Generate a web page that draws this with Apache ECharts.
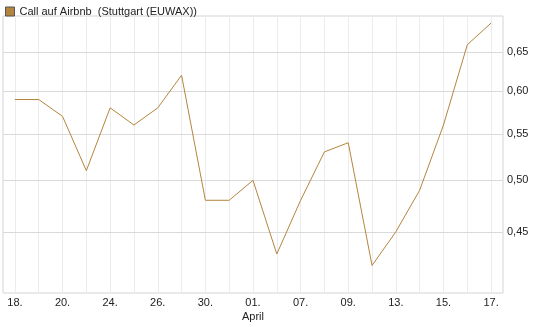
<!DOCTYPE html>
<html>
<head>
<meta charset="utf-8">
<script src="https://cdn.jsdelivr.net/npm/echarts@6/dist/echarts.min.js"></script>
<style>html,body{margin:0;padding:0;background:#fff}#c{width:545px;height:327px}</style>
</head>
<body>
<div id="c"></div>
<script>
var seriesName = 'Call auf Airbnb  (Stuttgart (EUWAX))';
var categories = ['18.','19.','20.','21.','24.','25.','26.','28.','30.','31.','01.','04.','07.','08.','09.','11.','13.','14.','15.','16.','17.'];
var values = [0.59,0.59,0.57,0.51,0.58,0.56,0.58,0.62,0.48,0.48,0.50,0.43,0.48,0.53,0.54,0.42,0.45,0.49,0.56,0.66,0.69];
var yTicks = [0.45,0.50,0.55,0.60,0.65];
var monthLabel = 'April';

var chart = echarts.init(document.getElementById('c'));
chart.setOption({
  animation: false,
  textStyle: {fontFamily: 'Liberation Sans, Arial, sans-serif'},
  legend: {
    left: 0, top: 1, itemWidth: 9, itemHeight: 9, itemGap: 5,
    icon: 'rect',
    textStyle: {fontSize: 11, color: '#222', fontFamily: 'Liberation Sans, Arial, sans-serif'},
    itemStyle: {borderColor: '#555', borderWidth: 1}
  },
  grid: {left: 3, right: 42, top: 16, bottom: 34, show: true, borderColor: '#d4d4d4', borderWidth: 1},
  xAxis: {
    type: 'category', data: categories, boundaryGap: true,
    axisLine: {show: false}, axisTick: {show: false},
    axisLabel: {
      interval: 1, fontSize: 11, color: '#222', margin: 3, lineHeight: 14,
      formatter: function (v, i) { return i === 10 ? v + '\n' + monthLabel : v; }
    },
    splitLine: {show: true, interval: 0, alignWithLabel: true, lineStyle: {color: '#ececec', width: 1}}
  },
  yAxis: {
    type: 'log', logBase: 10, min: 0.397, max: 0.70,
    axisLine: {show: false}, axisTick: {show: false}, axisLabel: {show: false},
    splitLine: {show: false}
  },
  series: [{
    name: seriesName, type: 'line', data: values,
    showSymbol: false, symbol: 'none',
    lineStyle: {color: '#b5843e', width: 1},
    itemStyle: {color: '#b5843e'},
    z: 3,
    markLine: {
      silent: true, symbol: 'none', animation: false, z: 1,
      lineStyle: {color: '#dadada', width: 1, type: 'solid'},
      label: {
        position: 'end', distance: 4, fontSize: 11, color: '#222',
        formatter: function (p) { return p.value.toFixed(2).replace('.', ','); }
      },
      emphasis: {disabled: true},
      data: yTicks.map(function (t) { return {yAxis: t}; })
    }
  }]
});
</script>
</body>
</html>
